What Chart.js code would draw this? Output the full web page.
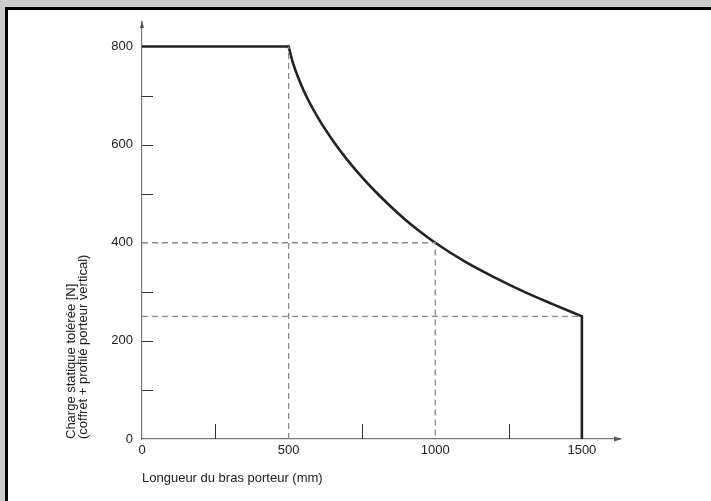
<!DOCTYPE html>
<html>
<head>
<meta charset="utf-8">
<script src="https://cdn.jsdelivr.net/npm/chart.js@4/dist/chart.umd.min.js"></script>
<style>
  html, body { margin: 0; padding: 0; background: #cccccc; overflow: hidden; }
  #panel { position: absolute; left: 5px; top: 7px; width: 730px; height: 520px; background: #fff; border-left: 3px solid #000; border-top: 3px solid #000; }
  #box { position: absolute; left: 0; top: 0; width: 711px; height: 501px; }
</style>
</head>
<body>
<div id="panel"></div>
<div id="box"><canvas id="myChart" width="711" height="501"></canvas></div>
<script>
// courbe de charge (mm -> N)
const plateauLengths = [0, 500];
const plateauLoads = [800, 800];
const curveLengths = [500, 515, 550, 600, 650, 700, 750, 800, 850, 900, 950, 1000, 1100, 1200, 1300, 1400, 1500];
const curveLoads = [800, 766, 712, 655, 609, 569, 534, 502, 473, 446, 422, 400, 362, 330, 301, 275, 250];
const dropLengths = [1500, 1500];
const dropLoads = [250, 0];

// lignes de repère pointillées
const ref500Lengths = [500, 500];
const ref500Loads = [0, 800];
const ref1000Lengths = [0, 1000, 1000];
const ref1000Loads = [400, 400, 0];
const ref1500Lengths = [0, 1500];
const ref1500Loads = [250, 250];

// graduations
const xTickLabels = [0, 500, 1000, 1500];
const yTickLabels = [0, 200, 400, 600, 800];
const xTickMarks = [250, 750, 1250];
const yTickMarks = [100, 200, 300, 500, 600, 700];
const xMax = 1630;
const yMax = 850;

const toPoints = (xs, ys) => xs.map((x, i) => ({ x: x, y: ys[i] }));

const solid = { borderColor: '#222', borderWidth: 2.6, showLine: true, pointRadius: 0, fill: false, borderCapStyle: 'round', borderJoinStyle: 'round' };
const dashed = { borderColor: '#8a8a8a', borderWidth: 1.3, borderDash: [6, 4], showLine: true, pointRadius: 0, fill: false };

const axisExtras = {
    id: 'axisExtras',
    afterDraw(chart) {
        const ctx = chart.ctx;
        const xs = chart.scales.x, ys = chart.scales.y;
        const x0 = xs.getPixelForValue(0), y0 = ys.getPixelForValue(0);
        const xEnd = xs.getPixelForValue(xMax), yEnd = ys.getPixelForValue(yMax);
        ctx.save();
        ctx.strokeStyle = '#333';
        ctx.lineWidth = 1;
        ctx.beginPath();
        yTickMarks.forEach(v => {
            const y = Math.round(ys.getPixelForValue(v)) + 0.5;
            ctx.moveTo(x0, y); ctx.lineTo(x0 + 11, y);
        });
        xTickMarks.forEach(v => {
            const x = Math.round(xs.getPixelForValue(v)) + 0.5;
            ctx.moveTo(x, y0); ctx.lineTo(x, y0 - 15);
        });
        ctx.stroke();
        // flèches
        ctx.fillStyle = '#555';
        ctx.beginPath();
        ctx.moveTo(xEnd + 2, y0); ctx.lineTo(xEnd - 6, y0 - 2.5); ctx.lineTo(xEnd - 6, y0 + 2.5); ctx.closePath();
        ctx.moveTo(x0, yEnd - 2); ctx.lineTo(x0 - 2, yEnd + 6); ctx.lineTo(x0 + 2, yEnd + 6); ctx.closePath();
        ctx.fill();
        ctx.restore();
    }
};

const ctx = document.getElementById('myChart').getContext('2d');
new Chart(ctx, {
    type: 'scatter',
    data: {
        datasets: [
            Object.assign({ data: toPoints(ref500Lengths, ref500Loads) }, dashed),
            Object.assign({ data: toPoints(ref1000Lengths, ref1000Loads) }, dashed),
            Object.assign({ data: toPoints(ref1500Lengths, ref1500Loads) }, dashed),
            Object.assign({ data: toPoints(plateauLengths, plateauLoads) }, solid),
            Object.assign({ data: toPoints(curveLengths, curveLoads), cubicInterpolationMode: 'monotone' }, solid),
            Object.assign({ data: toPoints(dropLengths, dropLoads) }, solid)
        ]
    },
    options: {
        responsive: false,
        animation: false,
        events: [],
        layout: { padding: { top: 22, right: 91, left: 0, bottom: 0 } },
        plugins: { legend: { display: false }, tooltip: { enabled: false } },
        scales: {
            x: {
                type: 'linear',
                min: 0,
                max: xMax,
                afterFit: s => { s.height = 62; },
                afterBuildTicks: s => { s.ticks = xTickLabels.map(v => ({ value: v })); },
                grid: { display: false, drawTicks: false },
                border: { display: true, color: '#777', width: 1.2 },
                ticks: { padding: 4, color: '#222', font: { family: 'Liberation Sans', size: 13 }, maxRotation: 0, callback: v => String(v) },
                title: {
                    display: true,
                    align: 'start',
                    text: 'Longueur du bras porteur (mm)',
                    color: '#222',
                    font: { family: 'Liberation Sans', size: 13 },
                    padding: { top: 0, bottom: 15 }
                }
            },
            y: {
                type: 'linear',
                min: 0,
                max: yMax,
                afterFit: s => { s.width = 142; },
                afterBuildTicks: s => { s.ticks = yTickLabels.map(v => ({ value: v })); },
                grid: { display: false, drawTicks: false },
                border: { display: true, color: '#777', width: 1.2 },
                ticks: { padding: 9, color: '#222', font: { family: 'Liberation Sans', size: 13 }, callback: v => String(v) },
                title: {
                    display: true,
                    align: 'start',
                    text: ['Charge statique tolérée [N]', '(coffret + profilé porteur vertical)'],
                    color: '#222',
                    font: { family: 'Liberation Sans', size: 13, lineHeight: 0.9 },
                    padding: { top: 66, bottom: 0 }
                }
            }
        }
    },
    plugins: [axisExtras]
});
</script>
</body>
</html>
